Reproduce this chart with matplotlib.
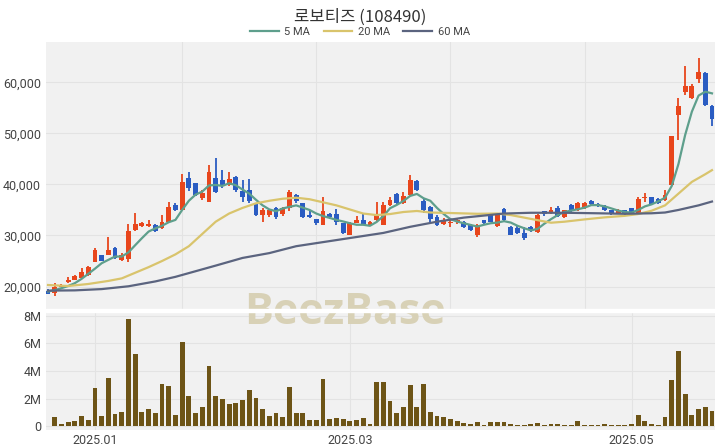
import numpy as np
import matplotlib
matplotlib.use("Agg")
import matplotlib.pyplot as plt
from matplotlib.patches import Rectangle
from matplotlib.ticker import FuncFormatter, FixedLocator

plt.rcParams['font.family'] = ['Roboto', 'Noto Sans CJK KR', 'DejaVu Sans']

#################################################################
# data (daily candles, last 100 trading days)
#################################################################
title = '로보티즈 (108490)'

opens = [19200, 18800, 19900, 20800, 21300, 21700, 22200, 24900, 26100, 26200,
         27500, 25200, 25300, 31000, 31800, 31800, 32100, 31400, 32700, 36000,
         35000, 41200, 40200, 37300, 36600, 41200, 40900, 39900, 41400, 38800,
         38900, 36200, 34000, 34000, 35300, 34300, 35300, 37900, 36300, 34000,
         33200, 32100, 34200, 34200, 32400, 30100, 32500, 33000, 32100, 33100,
         32100, 36000, 38100, 36400, 37900, 40700, 36800, 35500, 33700, 32300,
         32500, 32600, 32700, 32100, 30100, 33000, 34000, 31900, 35100, 31700,
         31400, 30400, 31700, 30600, 34700, 34500, 35300, 33600, 36000, 34900,
         35300, 36800, 36200, 35800, 34900, 34500, 34900, 35300, 34400, 37300,
         37500, 37100, 37000, 39900, 53600, 58200, 56900, 60600, 61900, 55400]
highs = [19450, 20700, 20400, 21800, 22300, 23600, 24000, 27600, 26200, 29700,
         27700, 26500, 32300, 34500, 32700, 33000, 32300, 34000, 36500, 36400,
         42000, 42500, 40300, 38900, 43800, 45100, 42800, 42500, 41700, 40900,
         41000, 36300, 35300, 35100, 35500, 35500, 38900, 38100, 36400, 34700,
         33300, 37600, 34400, 35100, 32500, 32700, 33800, 34500, 32900, 36600,
         36600, 37500, 38400, 38600, 41800, 40800, 37100, 35800, 34000, 33400,
         33100, 33300, 32900, 32200, 32200, 33100, 34100, 34400, 35300, 31800,
         32100, 31700, 31800, 34200, 34800, 35600, 35800, 35000, 36100, 36600,
         36500, 37000, 36300, 36000, 35000, 35100, 35000, 35400, 37600, 38300,
         37600, 37300, 39000, 49500, 56900, 63200, 59700, 64700, 62000, 55600]
lows = [18450, 18100, 19850, 20700, 21200, 21400, 22100, 24800, 25000, 26100,
        25400, 25100, 24900, 30900, 31700, 31600, 30600, 31300, 32500, 34700,
        34900, 38800, 37700, 37000, 36500, 38300, 39300, 39700, 38600, 36600,
        36300, 33900, 32700, 33700, 33300, 33900, 34700, 36300, 33400, 33500,
        32000, 32000, 33300, 32100, 30300, 30000, 32400, 32000, 32000, 32800,
        32000, 35700, 36100, 36200, 37700, 38800, 34400, 32700, 31900, 32100,
        31600, 32300, 31500, 30800, 29800, 32300, 32600, 31700, 32600, 30000,
        30300, 29100, 30700, 30500, 33800, 34200, 33700, 33400, 34500, 34700,
        35200, 35800, 35500, 34700, 34100, 34400, 34000, 34100, 34300, 36600,
        36000, 36200, 36800, 39800, 48700, 57500, 56700, 59800, 55400, 51500]
closes = [18600, 19900, 20300, 21300, 22100, 22900, 23800, 27200, 25100, 27200,
          25600, 26200, 30800, 32300, 32500, 32200, 30800, 32600, 35500, 35000,
          40500, 39300, 37900, 38300, 42500, 38600, 39600, 41000, 38900, 37500,
          36800, 34000, 35000, 34900, 33700, 35300, 38600, 36700, 33600, 33600,
          32500, 34700, 33600, 32700, 30400, 32500, 33000, 32100, 32700, 34000,
          36000, 37000, 36300, 37700, 40900, 38900, 34900, 33200, 32100, 33000,
          32700, 33000, 31700, 31000, 32000, 32400, 32700, 34200, 33100, 30100,
          30400, 29500, 31000, 34000, 34200, 34900, 33800, 34900, 34700, 36300,
          36300, 36200, 35700, 34900, 34300, 35000, 34200, 34300, 37100, 37600,
          36200, 36300, 37900, 49400, 55300, 59300, 59300, 62100, 55600, 52800]

# volume in millions of shares; the volume panel starts at the 2nd candle
volume_m = [0.65, 0.12, 0.29, 0.36, 0.73, 0.44, 2.79, 0.73, 3.47, 0.85,
            1.00, 7.76, 5.21, 1.00, 1.21, 0.92, 3.03, 2.91, 0.78, 6.13,
            2.20, 0.97, 1.40, 4.39, 2.20, 2.00, 1.60, 1.70, 1.87, 2.62,
            2.06, 1.24, 0.73, 0.92, 0.68, 2.86, 0.97, 0.97, 0.44, 0.44,
            3.42, 0.51, 0.60, 0.53, 0.39, 0.44, 0.60, 0.15, 3.20, 3.20,
            1.82, 0.92, 1.36, 2.96, 1.40, 3.05, 1.00, 0.70, 0.68, 0.53,
            0.34, 0.24, 0.15, 0.27, 0.07, 0.27, 0.27, 0.27, 0.12, 0.05,
            0.05, 0.12, 0.19, 0.10, 0.17, 0.15, 0.07, 0.07, 0.34, 0.10,
            0.07, 0.07, 0.17, 0.05, 0.05, 0.05, 0.12, 0.78, 0.36, 0.12,
            0.07, 0.68, 3.35, 5.45, 2.33, 0.82, 1.21, 1.40, 1.11]

# moving averages as drawn on the chart
ma5 = [19030, 19300, 19680, 20100, 20660, 21500, 22490, 23500, 24570, 25230,
       25880, 25880, 26700, 28100, 29470, 30770, 31400, 31900, 32600, 33050,
       35000, 36800, 38000, 38600, 39800, 39900, 39710, 40230, 39850, 39000,
       38200, 37000, 35900, 35100, 34750, 35300, 35600, 35900, 35450, 35000,
       34300, 33800, 33450, 33050, 32750, 32400, 32100, 32100, 31900, 32650,
       33800, 35340, 35990, 36770, 37750, 38140, 37290, 36800, 35400, 34200,
       33200, 32730, 32400, 32070, 31750, 32100, 32400, 32530, 32800, 32530,
       31900, 31420, 31000, 31300, 32300, 33200, 34000, 34600, 34880, 35140,
       35450, 35950, 35950, 35700, 35300, 34880, 34600, 34490, 35000, 35700,
       36100, 36700, 37400, 39700, 44000, 49690, 54250, 57400, 58170, 57840]
ma20_x = [0, 3, 6, 9, 11, 13, 15, 17, 19, 21, 23, 25, 27, 29, 31, 33, 35, 37,
          39, 41, 43, 45, 47, 49, 51, 53, 55, 57, 60, 64, 67, 69, 71, 73, 75,
          77, 80, 83, 86, 88, 90, 92, 94, 96, 98, 99]
ma20 = [20300, 20100, 20500, 21100, 21600, 22700, 23800, 25000, 26300, 27900,
        30300, 32700, 34300, 35400, 36300, 36800, 37200, 37400, 37100, 36500,
        35900, 35100, 34300, 34000, 34200, 34600, 34800, 34500, 34400, 34250,
        34300, 34000, 33500, 33000, 32500, 32700, 33150, 33550, 33850, 34200,
        34850, 35900, 38200, 40500, 42000, 42800]
ma60_x = [0, 4, 8, 12, 16, 19, 22, 25, 29, 33, 37, 43, 50, 54, 58, 62, 68,
          72, 77, 82, 86, 90, 92, 94, 97, 99]
ma60 = [19200, 19250, 19500, 20050, 21000, 21900, 23000, 24100, 25600, 26550,
        27900, 29100, 30500, 31700, 32700, 33500, 34300, 34450, 34450, 34350,
        34250, 34350, 34500, 35000, 35900, 36650]

month_pos = [7, 45, 87]
month_labels = ['2025.01', '2025.03', '2025.05']

#################################################################
# figure layout: price panel on top, volume panel below
#################################################################
W, H = 720, 448
fig = plt.figure(figsize=(W / 100, H / 100), dpi=100)
fig.patch.set_facecolor('white')

def px_axes(left, top, right, bottom):
    return fig.add_axes([left / W, 1 - bottom / H, (right - left) / W, (bottom - top) / H])

ax = px_axes(46, 42, 715, 309)
axv = px_axes(46, 312, 715, 430)

bg = '#f1f1f1'
grid = '#e3e3e3'
red = '#e8461c'
blue = '#2a5cc2'

n = len(closes)
x = np.arange(n)
o = np.array(opens)
c = np.array(closes)
up = c >= o
cols = np.where(up, red, blue)

for a in (ax, axv):
    a.set_facecolor(bg)
    for s in a.spines.values():
        s.set_visible(False)
    a.tick_params(length=0, labelsize=9, labelcolor='#444444')
    a.set_xlim(-0.3, 99.45)

# price panel
ax.set_ylim(15600, 67900)
ax.set_yticks([20000, 30000, 40000, 50000, 60000])
ax.yaxis.set_major_formatter(FuncFormatter(lambda v, p: f'{int(v):,}'))
ax.xaxis.set_major_locator(FixedLocator([20, 40, 60, 80]))
ax.set_xticklabels([])
ax.grid(True, color=grid, linewidth=0.8)
ax.set_axisbelow(True)

ax.vlines(x, lows, highs, colors=cols, linewidth=1.3, zorder=2)
body = np.maximum(np.abs(c - o), 150)
ax.bar(x, body, bottom=np.minimum(o, c), width=0.72, color=cols, zorder=3)

l5, = ax.plot(x, ma5, color='#5e9f8c', linewidth=1.6, zorder=4)
l20, = ax.plot(ma20_x, ma20, color='#d9c46c', linewidth=1.6, zorder=4)
l60, = ax.plot(ma60_x, ma60, color='#5b647f', linewidth=1.6, zorder=4)

# volume panel
axv.set_ylim(-0.29e6, 8.29e6)
axv.set_yticks([0, 2e6, 4e6, 6e6, 8e6])
axv.yaxis.set_major_formatter(FuncFormatter(lambda v, p: '0' if v == 0 else f'{v / 1e6:.0f}M'))
axv.set_xticks(month_pos)
axv.set_xticklabels(month_labels)
axv.tick_params(axis='x', pad=3)
axv.grid(True, color=grid, linewidth=0.8)
axv.set_axisbelow(True)
vx = np.arange(1, n)
axv.bar(vx, np.array(volume_m) * 1e6, width=0.72, color='#6d5416', zorder=3)

# title and legend
fig.text(0.5, 1 - 17 / H, title, ha='center', va='center', fontsize=12,
         fontweight='light', color='#333333', family=['Noto Sans CJK KR', 'DejaVu Sans'])
fig.legend([l5, l20, l60], ['5 MA', '20 MA', '60 MA'], loc='center',
           bbox_to_anchor=(0.5, 1 - 32 / H), ncol=3, frameon=False, fontsize=8,
           handlelength=2.6, columnspacing=1.2, handletextpad=0.5,
           labelcolor='#444444')

# watermark, crossed by the white gap between panels
fig.text(345 / W, 1 - 312 / H, 'BeezBase', ha='center', va='center', fontsize=31,
         fontweight='bold', color='#d8d1b6', family='Open Sans', zorder=5)
fig.add_artist(Rectangle((46 / W, 1 - 312 / H), 669 / W, 3 / H,
                         transform=fig.transFigure, color='white', zorder=6))

fig.savefig('out.png', dpi=100)
